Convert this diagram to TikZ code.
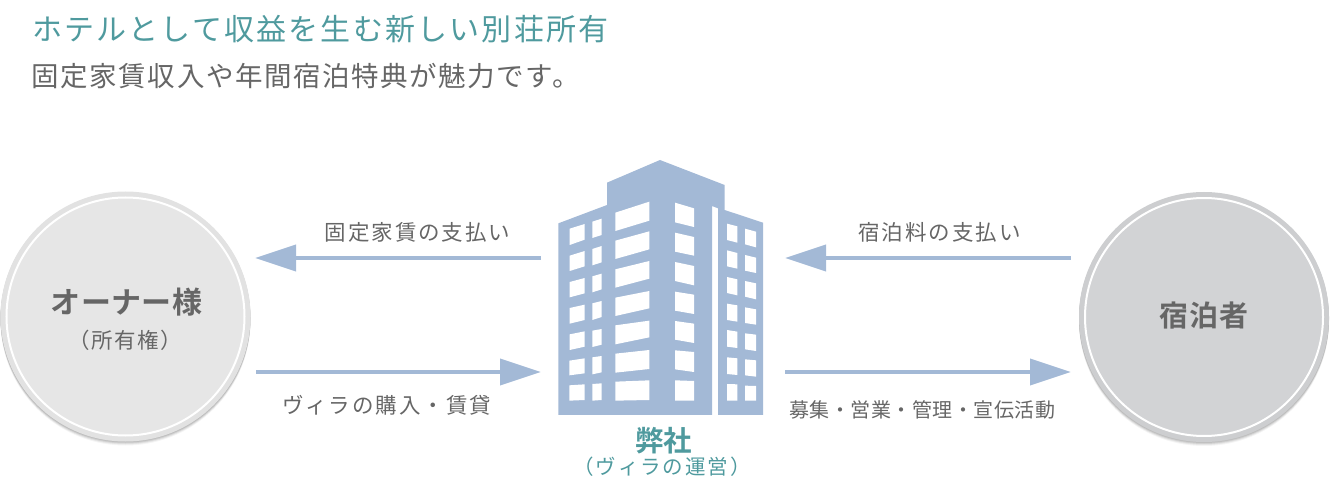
\documentclass[tikz,border=0pt]{standalone}
\usepackage{fontspec}
\usetikzlibrary{arrows.meta}
\newfontfamily\jp{Noto Sans CJK JP}
\newfontfamily\jpb{Noto Sans CJK JP Bold}
\definecolor{teal}{HTML}{4F9A9E}
\definecolor{txt}{HTML}{666666}
\definecolor{bld}{HTML}{A3B9D6}
\definecolor{ringA}{HTML}{E2E2E2}
\definecolor{fillA}{HTML}{E6E6E6}
\definecolor{ringB}{HTML}{CDCED0}
\definecolor{fillB}{HTML}{D2D3D5}
\definecolor{shade}{HTML}{6B5A5A}
\newcommand\jptext[2]{\jp\fontsize{#1}{#1}\selectfont\addfontfeature{LetterSpace=#2}}
\newcommand\jpbold[2]{\jpb\fontsize{#1}{#1}\selectfont\addfontfeature{LetterSpace=#2}}
\newcommand\win[6]{\fill[white] (#1,#3) -- (#2,#4) -- (#2,#5) -- (#1,#6) -- cycle;}
\tikzset{
  lbl/.style={inner sep=0pt,text=txt,font=\jptext{21.5}{9}},
  flow/.style={draw=bld,line width=4pt,-{Triangle[length=41pt,width=26pt]},shorten >=0pt},
  disc/.style={circle,inner sep=0pt,minimum size=238pt,draw=white,line width=2pt}
}
\begin{document}
\begin{tikzpicture}[x=1pt,y=-1pt]
\useasboundingbox (0,0) rectangle (1342,497);
% header
\node[anchor=west,inner sep=0pt,text=teal,font=\jptext{30}{7.3}] (h1) at (32,29) {ホテルとして収益を生む新しい別荘所有};
\node[anchor=west,inner sep=0pt,text=txt,font=\jptext{27.5}{5.7}] (h2) at (31.5,76) {固定家賃収入や年間宿泊特典が魅力です。};
% circles
\foreach \d/\o in {4/0.04,3/0.07,2/0.10,1/0.13}{
  \fill[shade,opacity=\o] (125.5,316.5+\d) circle (125);
  \fill[shade,opacity=\o] (1204,317+\d) circle (125);
}
\fill[ringA] (125.5,316.5) circle (125);
\fill[ringB] (1204,317) circle (125);
\node[disc,fill=fillA] (owner) at (125.5,316.5) {};
\node[disc,fill=fillB] (guest) at (1204,317) {};
\node[inner sep=0pt,text=txt,font=\jpbold{30}{1}] (ownerT) at (126.5,302) {オーナー様};
\node[inner sep=0pt,text=txt,font=\jptext{21.5}{7}] (ownerS) at (125.5,340) {（所有権）};
\node[inner sep=0pt,text=txt,font=\jpbold{29}{3.5}] (guestT) at (1204,316) {宿泊者};
% building
\begin{scope}[x=0.33333pt,y=-0.33333pt,shift={(540pt,-150pt)}]
\fill[bld] (55,220) -- (201,165) -- (201,98) -- (360,30) -- (554,105) -- (554,180) -- (669,218) -- (669,795) -- (534,795) -- (534,175) -- (516,168) -- (516,795) -- (55,795) -- cycle;
\win{89}{134}{236}{222}{269}{285}
\win{89}{134}{317}{303}{349}{363}
\win{89}{134}{396}{384}{430}{442}
\win{89}{134}{474}{464}{510}{521}
\win{89}{134}{553}{544}{590}{600}
\win{88}{134}{632}{625}{670}{676}
\win{88}{134}{706}{703}{750}{752}
\win{157}{185}{215}{206}{255}{264}
\win{157}{185}{297}{288}{337}{346}
\win{157}{185}{379}{371}{418}{427}
\win{157}{185}{460}{453}{501}{510}
\win{157}{185}{542}{537}{584}{591}
\win{157}{185}{622}{618}{667}{673}
\win{157}{185}{702}{700}{750}{752}
\win{226}{328}{188}{155}{212}{243}
\win{226}{328}{272}{244}{298}{327}
\win{226}{328}{358}{333}{386}{413}
\win{226}{328}{443}{423}{475}{498}
\win{226}{328}{526}{512}{562}{583}
\win{226}{328}{611}{600}{657}{668}
\win{226}{328}{695}{691}{750}{752}
\win{405}{462}{158}{175}{231}{217}
\win{405}{462}{248}{261}{317}{305}
\win{405}{462}{336}{348}{406}{393}
\win{405}{462}{425}{434}{492}{482}
\win{405}{462}{513}{521}{579}{569}
\win{405}{462}{601}{606}{666}{658}
\win{405}{462}{691}{693}{752}{752}
\win{561}{592}{221}{229}{278}{270}
\win{561}{592}{301}{309}{356}{349}
\win{561}{592}{381}{388}{436}{429}
\win{561}{592}{461}{466}{515}{510}
\win{561}{592}{540}{545}{594}{590}
\win{561}{592}{622}{625}{675}{672}
\win{561}{592}{702}{703}{752}{752}
\win{615}{648}{236}{245}{292}{283}
\win{615}{648}{315}{323}{369}{362}
\win{615}{648}{393}{400}{448}{440}
\win{615}{648}{472}{478}{524}{519}
\win{615}{648}{550}{554}{603}{598}
\win{615}{648}{628}{631}{680}{676}
\win{615}{648}{707}{708}{752}{752}
\end{scope}
\node[inner sep=0pt,text=teal,font=\jpbold{28.5}{0}] (co) at (663.5,441) {弊社};
\node[inner sep=0pt,text=teal,font=\jptext{20.5}{9.5}] (coS) at (662,467) {（ヴィラの運営）};
% connector ends
\coordinate (a1s) at (541,258);
\coordinate (a1e) at (255,258);
\coordinate (a2s) at (256,372);
\coordinate (a2e) at (541,372);
\coordinate (a3s) at (1071,258);
\coordinate (a3e) at (785,258);
\coordinate (a4s) at (785,372);
\coordinate (a4e) at (1071,372);
\draw[flow] (a1s) -- (a1e);
\draw[flow] (a2s) -- (a2e);
\draw[flow] (a3s) -- (a3e);
\draw[flow] (a4s) -- (a4e);
\node[lbl] (l1) at (417.5,232) {固定家賃の支払い};
\node[lbl] (l2) at (939.5,232) {宿泊料の支払い};
\node[lbl] (l3) at (386.5,405) {ヴィラの購入・賃貸};
\node[lbl,font=\jptext{20}{2.5}] (l4) at (922,410) {募集・営業・管理・宣伝活動};
\end{tikzpicture}
\end{document}
